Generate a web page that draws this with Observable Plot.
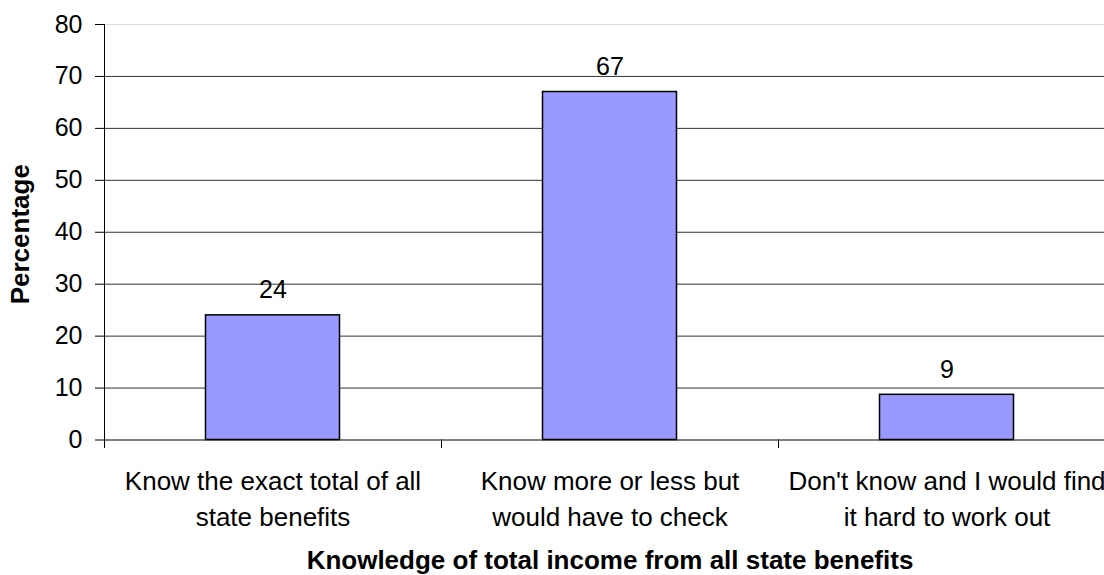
<!DOCTYPE html>
<html><head><meta charset="utf-8">
<script src="https://cdn.jsdelivr.net/npm/d3@7"></script>
<script src="https://cdn.jsdelivr.net/npm/@observablehq/plot@0.6"></script>
<style>html,body{margin:0;padding:0;background:#fff;overflow:hidden}</style>
</head><body><div id="chart"></div>
<script>
const categories = [
  "Know the exact total of all\nstate benefits",
  "Know more or less but\nwould have to check",
  "Don't know and I would find\nit hard to work out"
];
const percentages = [24, 67, 8.7];
const valueLabels = ["24", "67", "9"];
const yTicks = [0, 10, 20, 30, 40, 50, 60, 70, 80];
const xTitle = "Knowledge of total income from all state benefits";
const yTitle = "Percentage";

const data = categories.map((c, i) => ({category: c, value: percentages[i], label: valueLabels[i]}));

const W = 1104, H = 575;
const mL = 104, mR = -11, mT = 24, mB = 135.5;
const step = (W - mR - mL) / categories.length;
const barW = 134;
const inset = (step - barW) / 2;

const chart = Plot.plot({
  width: W, height: H,
  marginLeft: mL, marginRight: mR, marginTop: mT, marginBottom: mB,
  style: {fontFamily: "'Liberation Sans', Arial, sans-serif", fontSize: "25px", background: "#fff", color: "#000"},
  x: {domain: categories, padding: 0, label: null},
  y: {domain: [0, 80], label: null},
  marks: [
    Plot.ruleY(yTicks.filter(d => d > 0), {y: d => d, stroke: d => d === 80 ? "#dddddd" : "#333333", strokeWidth: 1}),
    Plot.barY(data, {x: "category", y: "value", fill: "#9999ff", stroke: "#000", strokeWidth: 1.5, insetLeft: inset, insetRight: inset}),
    Plot.ruleY([0], {stroke: "#000", strokeWidth: 1}),
    Plot.frame({anchor: "left", stroke: "#000"}),
    Plot.ruleX(data, {x: "category", y1: 0, y2: -1.65, dx: -step / 2, stroke: "#000", strokeWidth: 1}),
    Plot.axisY({ticks: yTicks, tickSize: 9, tickPadding: 13, fontSize: 25, label: null}),
    Plot.axisX({tickSize: 0, tickPadding: 25, fontSize: 26, lineHeight: 1.37, label: null}),
    Plot.text(data, {x: "category", y: "value", text: "label", lineAnchor: "bottom", dy: -17, fontSize: 25}),
    Plot.text([xTitle], {frameAnchor: "bottom", lineAnchor: "bottom", dy: 129, fontSize: 26, fontWeight: "bold"}),
    Plot.text([yTitle], {frameAnchor: "left", textAnchor: "middle", rotate: -90, dx: -84, dy: 2, fontSize: 26, fontWeight: "bold"})
  ]
});
document.getElementById("chart").appendChild(chart);
</script>
</body></html>
